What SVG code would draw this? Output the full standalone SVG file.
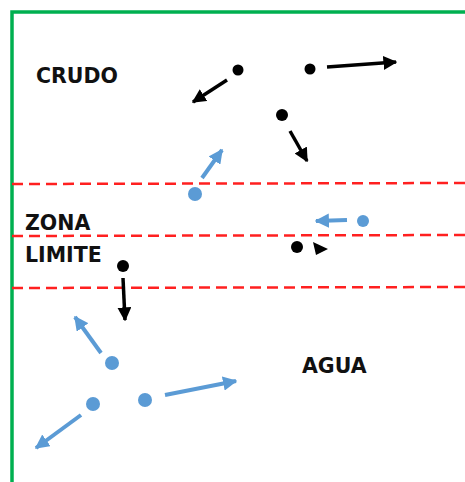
<svg xmlns="http://www.w3.org/2000/svg" width="465" height="482" viewBox="0 0 465 482">
<style>
.lbl{font-family:"DejaVu Sans",Verdana,sans-serif;font-weight:bold;font-size:20.5px;fill:#111}
.zone{stroke:#FF2020;stroke-width:2.5;stroke-dasharray:11 6;fill:none}
.blk{stroke:#000;stroke-width:3.5;fill:none}
.blu{stroke:#5B9BD5;stroke-width:4;fill:none}
</style>
<defs>
<marker id="ak" viewBox="0 0 10 10" refX="9" refY="5" markerWidth="4" markerHeight="4" markerUnits="strokeWidth" orient="auto"><path d="M0,0L10,5L0,10z" fill="#000"/></marker>
<marker id="ab" viewBox="0 0 10 10" refX="9" refY="5" markerWidth="3.6" markerHeight="3.6" markerUnits="strokeWidth" orient="auto"><path d="M0,0L10,5L0,10z" fill="#5B9BD5"/></marker>
</defs>
<rect width="465" height="482" fill="#fff"/>
<g id="frame">
<path d="M12,482V12H465" stroke="#00B050" stroke-width="3.5" fill="none"/>
</g>
<g id="zones">
<line class="zone" x1="12" y1="184" x2="465" y2="183"/>
<line class="zone" x1="12" y1="236" x2="465" y2="235"/>
<line class="zone" x1="12" y1="288" x2="465" y2="287"/>
</g>
<g id="labels">
<text class="lbl" x="36" y="83">CRUDO</text>
<text class="lbl" x="25" y="230">ZONA</text>
<text class="lbl" x="25" y="262">LIMITE</text>
<text class="lbl" x="302" y="373">AGUA</text>
</g>
<g id="particles">
<g id="p1"><circle cx="238" cy="70" r="5.5" fill="#000"/></g>
<g id="p2"><circle cx="310" cy="69" r="5.5" fill="#000"/></g>
<g id="p3"><circle cx="282" cy="115" r="6" fill="#000"/></g>
<g id="p4"><circle cx="297" cy="247" r="6" fill="#000"/><path d="M313,242L328,249L316,255z" fill="#000"/></g>
<g id="p5"><circle cx="123" cy="266" r="6" fill="#000"/></g>
<g id="b1"><circle cx="195" cy="194" r="7" fill="#5B9BD5"/></g>
<g id="b2"><circle cx="363" cy="221" r="6" fill="#5B9BD5"/></g>
<g id="b3"><circle cx="112" cy="363" r="7" fill="#5B9BD5"/></g>
<g id="b4"><circle cx="93" cy="404" r="7" fill="#5B9BD5"/></g>
<g id="b5"><circle cx="145" cy="400" r="7" fill="#5B9BD5"/></g>
</g>
<g id="connectors">
<line class="blk" x1="227" y1="80" x2="193" y2="102" marker-end="url(#ak)"/>
<line class="blk" x1="327" y1="67" x2="396" y2="62" marker-end="url(#ak)"/>
<line class="blk" x1="290" y1="131" x2="307" y2="161" marker-end="url(#ak)"/>
<line class="blk" x1="123" y1="278" x2="125" y2="320" marker-end="url(#ak)"/>
<line class="blu" x1="202" y1="178" x2="222" y2="150" marker-end="url(#ab)"/>
<line class="blu" x1="347" y1="220" x2="316" y2="221" marker-end="url(#ab)"/>
<line class="blu" x1="101" y1="353" x2="75" y2="317" marker-end="url(#ab)"/>
<line class="blu" x1="81" y1="415" x2="36" y2="448" marker-end="url(#ab)"/>
<line class="blu" x1="165" y1="395" x2="236" y2="381" marker-end="url(#ab)"/>
</g>
</svg>
